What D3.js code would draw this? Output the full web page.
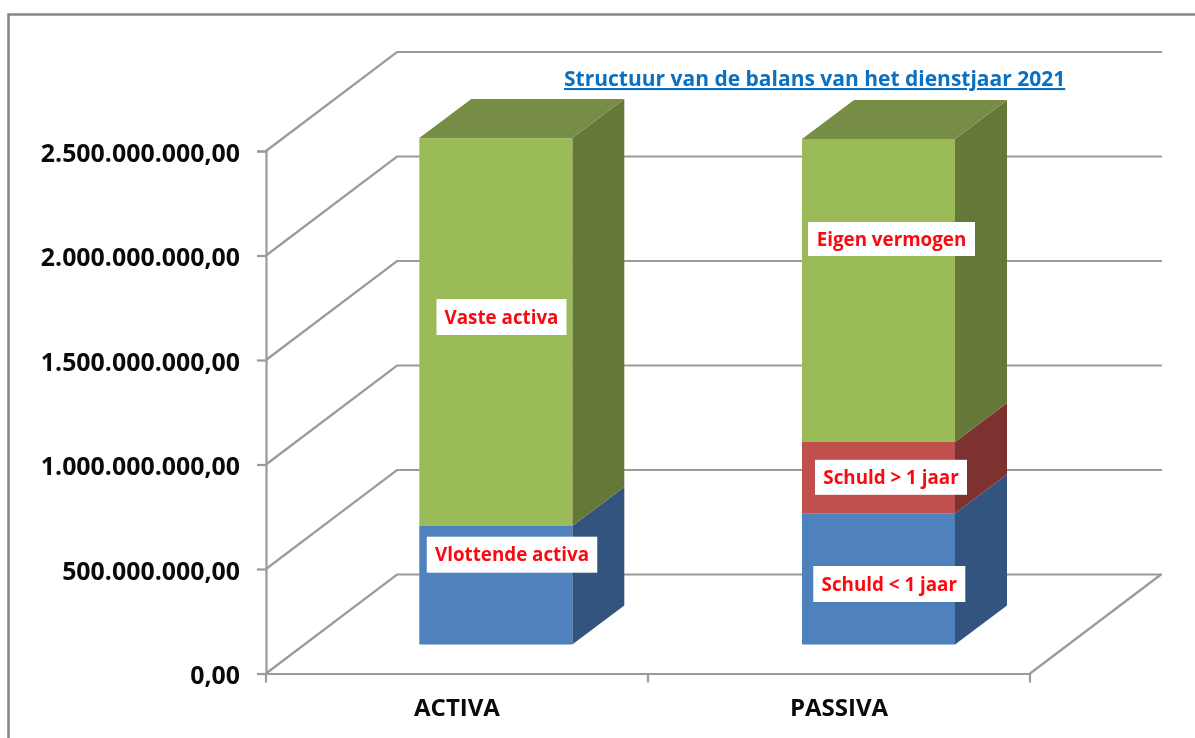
<!DOCTYPE html>
<html><head><meta charset="utf-8">
<script src="https://cdn.jsdelivr.net/npm/d3@7"></script>
<style>html,body{margin:0;padding:0;background:#fff}svg{display:block;filter:blur(0.4px)}text{font-family:"Open Sans",sans-serif;font-weight:700}</style>
</head><body><svg id="c" width="1195" height="738"></svg>
<script>
const categories=["ACTIVA","PASSIVA"];
const tickValues=[0,500000000,1000000000,1500000000,2000000000,2500000000];
const seriesNames=["Vlottende activa","Vaste activa","Schuld < 1 jaar","Schuld > 1 jaar","Eigen vermogen"];
const activaValues=[567000000,1856000000];
const passivaValues=[628000000,341000000,1450000000];
const chartTitle="Structuur van de balans van het dienstjaar 2021";

const svg=d3.select("#c");
const W=1195,H=738;
const gridCol="#9a9a9a";
// plot geometry
const x0=266,x1=1030,yBase=673.5,yTop=151;
const wallDx=131,wallDy=-99;
const barDy=-29,barDepthDx=52,barDepthDy=-39;
const y=d3.scaleLinear().domain([0,2500000000]).range([yBase,yTop]);
const x=d3.scaleBand().domain(categories).range([x0,x1]).paddingInner(0).paddingOuter(0);
const fmt=v=>d3.format(",.2f")(v).replace(/[,.]/g,c=>c===","?".":",");

// frame
svg.append("path").attr("d",`M8.5,${H} V14.5 H${W}`).attr("fill","none").attr("stroke","#868686").attr("stroke-width",2.5);

// walls and gridlines
const grid=svg.append("g").attr("fill","none").attr("stroke",gridCol).attr("stroke-width",2.2);
tickValues.forEach(v=>{
  grid.append("path").attr("d",`M${x0},${y(v)} L${x0+wallDx},${y(v)+wallDy} H${x1+wallDx+1}`);
});
grid.append("path").attr("d",`M${x0+wallDx+x1-x0},${yBase+wallDy} L${x1},${yBase}`);

// axes
const yAxis=d3.axisLeft(y).tickValues(tickValues).tickFormat(fmt).tickSize(9).tickPadding(17);
const ag=svg.append("g").attr("transform",`translate(${x0},0)`).call(yAxis);
const xAxis=d3.axisBottom(x).tickValues([]).tickSize(0);
const xg=svg.append("g").attr("transform",`translate(0,${yBase})`).call(xAxis);
[ag,xg].forEach(g=>{g.selectAll("path,line").attr("stroke",gridCol).attr("stroke-width",2.2);g.select(".domain").attr("stroke",gridCol);});
ag.selectAll("text").attr("font-size",24.9).attr("dy","0.42em").attr("fill","#0a0a0a").style("font-family","'Open Sans',sans-serif");
// category boundary ticks
svg.append("g").selectAll("line").data([x0,x0+(x1-x0)/2,x1]).join("line")
 .attr("x1",d=>d).attr("x2",d=>d).attr("y1",yBase).attr("y2",yBase+9).attr("stroke",gridCol).attr("stroke-width",2.2);
// category labels
svg.append("g").selectAll("text").data(categories).join("text")
 .attr("x",d=>x(d)+x.bandwidth()/2).attr("y",716)
 .attr("text-anchor","middle").attr("font-size",24).attr("fill","#0a0a0a").text(d=>d);

// bars
const barW=153;
const barOff=[153.3,154];
const pal={
 blue:{f:"#4f81bd",s:"#33547e",t:"#3f6797"},
 red:{f:"#c0504d",s:"#7d3230",t:"#9a403e"},
 green:{f:"#9bbb59",s:"#667838",t:"#778c44"}
};
function stack(cat,idx,vals,cols){
  const g=svg.append("g");
  const left=x(cat)+barOff[idx];
  let acc=0;
  const segs=vals.map((v,i)=>{const s={a:acc,b:acc+v,c:pal[cols[i]]};acc+=v;return s;});
  const py=v=>y(v)+barDy;
  const right=left+barW;
  segs.forEach(s=>{
    g.append("path").attr("fill",s.c.s).attr("d",`M${right},${py(s.a)} L${right+barDepthDx},${py(s.a)+barDepthDy} V${py(s.b)+barDepthDy} L${right},${py(s.b)} Z`);
    g.append("rect").attr("x",left).attr("y",py(s.b)).attr("width",barW).attr("height",py(s.a)-py(s.b)).attr("fill",s.c.f);
  });
  const top=segs[segs.length-1];
  g.append("path").attr("fill",top.c.t).attr("d",`M${left},${py(top.b)} L${left+barDepthDx},${py(top.b)+barDepthDy} H${right+barDepthDx} L${right},${py(top.b)} Z`);
}
stack("ACTIVA",0,activaValues,["blue","green"]);
stack("PASSIVA",1,passivaValues,["blue","red","green"]);

// data labels (box centre and size in page pixels)
const labelBoxes=[[512,554.7,170.5,36],[501.5,317,130,36],[889.3,584,152,36],[891,477.3,152,35],[891.5,239,167,34]];
const lg=svg.append("g");
seriesNames.forEach((n,i)=>{
  const [cx,cy,w,h]=labelBoxes[i];
  lg.append("rect").attr("x",cx-w/2).attr("y",cy-h/2).attr("width",w).attr("height",h).attr("fill","#fff");
  lg.append("text").attr("x",cx).attr("y",cy+6.5).attr("text-anchor","middle").attr("font-size",18.8).attr("fill","#fa0a10").text(n);
});

// title
svg.append("text").attr("x",564).attr("y",86).attr("font-size",21).attr("fill","#0b70c0").attr("text-decoration","underline").text(chartTitle);
</script></body></html>
